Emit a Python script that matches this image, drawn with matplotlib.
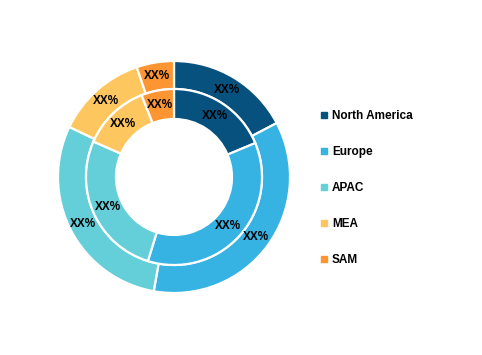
import matplotlib.pyplot as plt
from matplotlib.lines import Line2D

plt.rcParams['font.family'] = ['Liberation Sans', 'DejaVu Sans']

# ── Data ──────────────────────────────────────────────────────────────────────
regions = ["North America", "Europe", "APAC", "MEA", "SAM"]
outer_share = [17.3, 35.5, 29.3, 12.7, 5.2]   # outer ring (%)
inner_share = [18.7, 36.1, 26.8, 12.4, 6.0]   # inner ring (%)
outer_labels = ["XX%"] * 5
inner_labels = ["XX%"] * 5
colors = ["#07517F", "#36B2E3", "#64CFD8", "#FEC65E", "#FD9532"]

# ── Figure ────────────────────────────────────────────────────────────────────
W, H = 482, 355
fig = plt.figure(figsize=(W / 100, H / 100), dpi=100)
fig.patch.set_facecolor("white")

cx, cy, half = 174, 177, 130
R = 116.0
ax = fig.add_axes([(cx - half) / W, (H - cy - half) / H, 2 * half / W, 2 * half / H])

r_out, r_mid, r_in = 1.0, 88 / R, 58 / R
wedge = dict(edgecolor="white", linewidth=1.6)
txt = dict(fontsize=8.5, fontweight="bold")

ax.pie(outer_share, radius=r_out, colors=colors, startangle=90, counterclock=False,
       labels=outer_labels, labeldistance=(r_out + r_mid) / 2 / r_out,
       textprops=txt, wedgeprops=dict(width=r_out - r_mid, **wedge))
ax.pie(inner_share, radius=r_mid, colors=colors, startangle=90, counterclock=False,
       labels=inner_labels, labeldistance=(r_mid + r_in) / 2 / r_mid,
       textprops=txt, wedgeprops=dict(width=r_mid - r_in, **wedge))
for t in ax.texts:
    t.set_ha("center")
    t.set_va("center")
ax.set_xlim(-half / R, half / R)
ax.set_ylim(-half / R, half / R)
ax.set_aspect("equal")
ax.axis("off")

# ── Legend ────────────────────────────────────────────────────────────────────
handles = [Line2D([], [], ls="none", marker="s", ms=3.8, color=c) for c in colors]
fig.legend(handles, regions, loc="upper left", bbox_to_anchor=(315 / W, 1 - 104 / H),
           frameon=False, prop=dict(size=8.5, weight="bold"),
           handlelength=0.6, handletextpad=0.35, labelspacing=2.03, borderpad=0)

fig.savefig("out.png", dpi=100, facecolor="white")
